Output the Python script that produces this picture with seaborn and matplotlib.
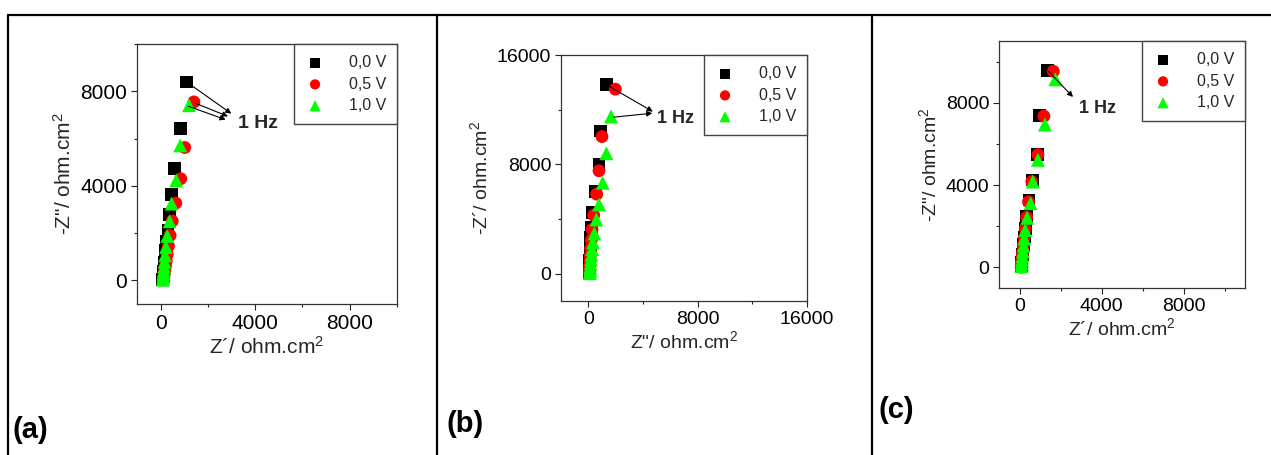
import numpy as np
import pandas as pd
import matplotlib
matplotlib.use("Agg")
import matplotlib.pyplot as plt
from matplotlib.lines import Line2D
import seaborn as sns

# ---- data ----
LABELS = ["0,0 V", "0,5 V", "1,0 V"]
COLORS = ["black", "#ff0000", "#00ff00"]
MARKERS = ["s", "o", "^"]

# panel (a)
a_sq_x = [1110, 850, 590, 450, 380, 310, 260, 220, 190, 165, 145, 130, 120, 110, 100, 95]
a_sq_y = [8390, 6420, 4730, 3640, 2780, 2120, 1650, 1280, 980, 740, 550, 390, 260, 150, 70, 20]
a_ci_x = [1410, 1020, 850, 640, 490, 400, 330, 280, 240, 205, 180, 160, 140, 125, 115, 105]
a_ci_y = [7550, 5620, 4300, 3270, 2510, 1900, 1450, 1100, 830, 620, 450, 310, 200, 110, 50, 10]
a_tr_x = [1200, 830, 660, 465, 380, 280, 225, 190, 165, 150, 135, 125, 115, 105, 100]
a_tr_y = [7410, 5710, 4230, 3250, 2500, 1880, 1410, 1060, 790, 580, 410, 280, 170, 90, 30]

# panel (b)
b_sq_x = [1320, 900, 780, 510, 320, 220, 170, 140, 120, 105, 95, 90, 85]
b_sq_y = [13870, 10440, 8000, 5990, 4450, 3420, 2650, 2000, 1450, 1000, 600, 300, 80]
b_ci_x = [1980, 1000, 780, 610, 390, 270, 210, 170, 145, 125, 110, 100, 95]
b_ci_y = [13500, 10030, 7530, 5820, 4280, 3230, 2450, 1850, 1350, 930, 580, 290, 60]
b_tr_x = [1660, 1320, 1050, 780, 590, 440, 340, 280, 230, 190, 160, 140, 125, 110, 100]
b_tr_y = [11500, 8810, 6650, 5060, 3960, 2940, 2300, 1800, 1400, 1050, 750, 480, 280, 120, 30]

# panel (c)
c_sq_x = [1360, 980, 870, 650, 460, 360, 290, 240, 200, 170, 145, 125, 110, 95, 85]
c_sq_y = [9580, 7380, 5480, 4250, 3280, 2460, 1900, 1480, 1130, 850, 620, 420, 260, 130, 30]
c_ci_x = [1650, 1190, 900, 600, 440, 350, 280, 230, 190, 160, 135, 115, 100, 90, 80]
c_ci_y = [9530, 7350, 5480, 4170, 3190, 2440, 1870, 1440, 1100, 820, 590, 400, 240, 110, 10]
c_tr_x = [1750, 1240, 900, 650, 540, 375, 280, 230, 195, 165, 140, 120, 105, 95]
c_tr_y = [9140, 6940, 5230, 4170, 3120, 2410, 1810, 1400, 1060, 780, 550, 350, 190, 60]

# 1 Hz annotations: (start, end) arrows and text anchor
a_arrows = [((1300, 8250), (2990, 7055)), ((1450, 7500), (2850, 6940)), ((1160, 7370), (2750, 6800))]
a_text = (3260, 6630)
b_arrows = [((1450, 13750), (4720, 11860)), ((1850, 11450), (4680, 11740))]
b_text = (4990, 11320)
c_arrows = [((1420, 9520), (2610, 8280))]
c_text = (2890, 7730)

sns.set_style("white")
plt.rcParams["font.family"] = ["Liberation Sans", "DejaVu Sans"]
plt.rcParams["mathtext.fontset"] = "custom"
plt.rcParams["mathtext.rm"] = "Liberation Sans"
plt.rcParams["mathtext.it"] = "Liberation Sans:italic"

W, H = 1271, 455
fig = plt.figure(figsize=(W / 100, H / 100), dpi=100)
fig.patch.set_facecolor("white")


def px_axes(left, top, right, bottom):
    return fig.add_axes([left / W, 1 - bottom / H, (right - left) / W, (bottom - top) / H])


panels = [
    dict(box=(137, 44, 397, 304), lim=(-1000, 10000), minor=2000, fs=15,
         xlabel="Z\u00b4/ ohm.cm$^2$", ylabel="-Z\"/ ohm.cm$^2$",
         data=[(a_sq_x, a_sq_y), (a_ci_x, a_ci_y), (a_tr_x, a_tr_y)],
         arrows=a_arrows, text=a_text, ticks=[0, 4000, 8000]),
    dict(box=(561, 55, 807, 301), lim=(-2000, 16000), minor=4000, fs=14,
         xlabel="Z\"/ ohm.cm$^2$", ylabel="-Z\u00b4/ ohm.cm$^2$",
         data=[(b_sq_x, b_sq_y), (b_ci_x, b_ci_y), (b_tr_x, b_tr_y)],
         arrows=b_arrows, text=b_text, ticks=[0, 8000, 16000]),
    dict(box=(999, 41, 1245, 288), lim=(-1000, 11000), minor=2000, fs=14,
         xlabel="Z\u00b4/ ohm.cm$^2$", ylabel="-Z\"/ ohm.cm$^2$",
         data=[(c_sq_x, c_sq_y), (c_ci_x, c_ci_y), (c_tr_x, c_tr_y)],
         arrows=c_arrows, text=c_text, ticks=[0, 4000, 8000]),
]

for p in panels:
    ax = px_axes(*p["box"])
    for (x, y), lab, col, mk in zip(p["data"], LABELS, COLORS, MARKERS):
        size = 85 if mk != "^" else 100
        sns.scatterplot(x=x, y=y, ax=ax, color=col, marker=mk, s=size,
                        edgecolor="none", linewidth=0, label=lab, zorder=3)
    ax.set_xlim(*p["lim"])
    ax.set_ylim(*p["lim"])
    ax.set_xticks(p["ticks"])
    ax.set_yticks(p["ticks"])
    ax.xaxis.set_minor_locator(matplotlib.ticker.MultipleLocator(p["minor"]))
    ax.yaxis.set_minor_locator(matplotlib.ticker.MultipleLocator(p["minor"]))
    ax.tick_params(which="major", direction="out", length=4, width=0.8,
                   labelsize=p["fs"], bottom=True, left=True, colors="#222222",
                   labelcolor="black", pad=3)
    ax.tick_params(which="minor", direction="out", length=2.5, width=0.8,
                   bottom=True, left=True, colors="#222222")
    for sp in ax.spines.values():
        sp.set_color("#333333")
        sp.set_linewidth(0.9)
    ax.set_xlabel(p["xlabel"], fontsize=p["fs"], labelpad=2)
    ax.set_ylabel(p["ylabel"], fontsize=p["fs"], labelpad=4)
    for start, end in p["arrows"]:
        ax.annotate("", xy=end, xytext=start,
                    arrowprops=dict(arrowstyle="-|>", color="black", lw=0.8,
                                    mutation_scale=8, shrinkA=0, shrinkB=0), zorder=4)
    ax.text(p["text"][0], p["text"][1], "1 Hz", fontsize=p["fs"] - 1,
            fontweight="bold", ha="left", va="center")
    leg = ax.legend(loc="upper right", borderaxespad=0, fontsize=11.5,
                    fancybox=False, framealpha=1, edgecolor="#444444",
                    handletextpad=1.5, labelspacing=0.4, borderpad=0.7,
                    markerscale=0.8, handlelength=1.2)
    leg.get_frame().set_linewidth(1.0)

# table borders
lw = 1.6
fig.add_artist(Line2D([8 / W, 1], [1 - 15 / H, 1 - 15 / H], color="black", lw=lw))
for xpx in [8, 437, 872]:
    fig.add_artist(Line2D([xpx / W, xpx / W], [1 - 15 / H, 0], color="black", lw=lw))

# panel letters
for lab, xpx, ypx in [("(a)", 12, 430), ("(b)", 446, 424), ("(c)", 879, 410)]:
    fig.text(xpx / W, 1 - ypx / H, lab, fontsize=21, fontweight="bold",
             ha="left", va="center", color="black")

fig.savefig("out.png", dpi=100)
